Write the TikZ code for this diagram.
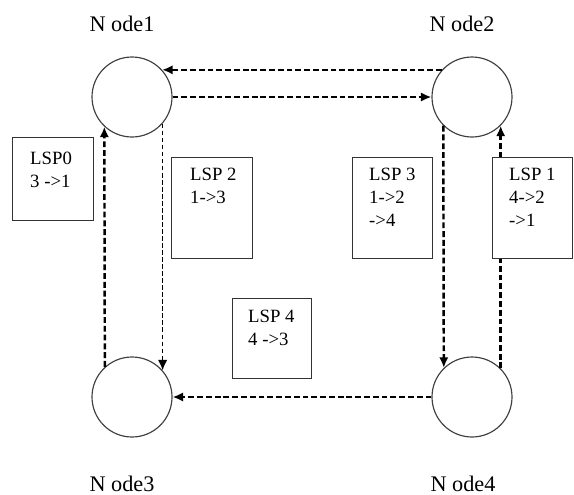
\documentclass[tikz,border=0pt]{standalone}
\usepackage{fontspec}
\setmainfont{Liberation Serif}
\usetikzlibrary{positioning, shapes, arrows.meta}

\begin{document}
\begin{tikzpicture}[x=0.03cm, y=-0.03cm,
	router/.style={circle, draw=black!75, line width=1pt, minimum size=2.4cm, inner sep=0pt},
	lspbox/.style={rectangle, draw=black!80, line width=1.2pt, fill=white, anchor=north west, inner sep=0pt},
	lsptext/.style={anchor=north west, inner sep=0pt, align=left, font=\fontsize{16}{19.5}\selectfont},
	nodename/.style={inner sep=0pt, font=\fontsize{19}{22}\selectfont},
	lsp/.style={line width=2.1pt, dash pattern=on 5pt off 2.5pt, -{Latex[length=9pt, width=8pt]}},
	lspthin/.style={line width=1.1pt, dash pattern=on 4pt off 2pt, -{Latex[length=9pt, width=8pt]}}]
	\useasboundingbox (0, 0) rectangle (574, 495);
	% Routers and names:
	\node[router](N1) at (132, 97){};
	\node[router](N2) at (472, 97){};
	\node[router](N3) at (132, 397){};
	\node[router](N4) at (472, 397){};
	\node[nodename](L1) at (122, 24){N ode1};
	\node[nodename](L2) at (462, 24){N ode2};
	\node[nodename](L3) at (122, 484){N ode3};
	\node[nodename](L4) at (463, 484){N ode4};
	% LSP paths:
	\draw[lsp] (N2.138) -- (N1.42);
	\draw[lsp] (N1.east) -- (N2.west);
	\draw[lsp] (N3.132.5) -- (N1.227.5);
	\draw[lspthin] (N1.-41.4) -- (N3.41.4);
	\draw[lsp] (N2.225.6) -- (N4.134.4);
	\draw[lsp] (N4.45.6) -- (N2.-45.6);
	\draw[lsp] (N4.west) -- (N3.east);
	% Label boxes (white, on top of the paths):
	\node[lspbox, minimum width=2.43cm, minimum height=2.49cm](B0) at (12, 137){};
	\node[lspbox, minimum width=2.43cm, minimum height=3.03cm](B2) at (171, 157){};
	\node[lspbox, minimum width=2.4cm, minimum height=3.03cm](B3) at (352, 157){};
	\node[lspbox, minimum width=2.4cm, minimum height=3.03cm](B1) at (492, 157){};
	\node[lspbox, minimum width=2.37cm, minimum height=2.4cm](B4) at (232, 298){};
	\node[lsptext](T0) at ([shift={(18, 15)}]B0.north west){LSP0\\3 ->1};
	\node[lsptext](T2) at ([shift={(19, 11)}]B2.north west){LSP 2\\1->3};
	\node[lsptext](T3) at ([shift={(17, 11)}]B3.north west){LSP 3\\1->2\\->4};
	\node[lsptext](T1) at ([shift={(17, 11)}]B1.north west){LSP 1\\4->2\\->1};
	\node[lsptext](T4) at ([shift={(16, 12)}]B4.north west){LSP 4\\4 ->3};
\end{tikzpicture}
\end{document}
